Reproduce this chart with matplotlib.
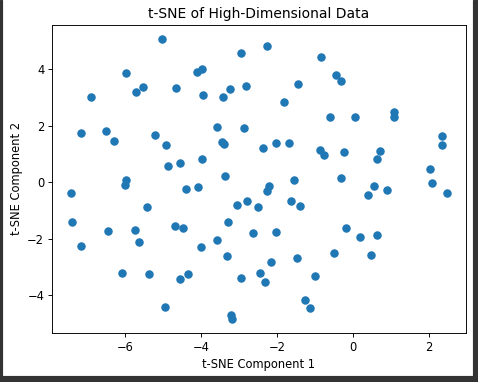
import matplotlib
matplotlib.use("Agg")
import matplotlib.pyplot as plt
from matplotlib.patches import Rectangle

comp1 = [-5.03, -2.95, -5.99, -4.11, -3.99, -6.89, -5.73, -5.53, -4.67, -3.96,
         -3.43, -3.25, -2.83, -7.16, -6.50, -6.30, -5.23, -4.92, -3.59, -2.87,
         -3.46, -3.40, -4.88, -4.56, -3.97, -3.38, -5.98,
         -2.26, -0.85, -0.46, -0.31, -1.45, -1.81, -0.62, 0.04, 1.07, 1.07,
         2.34, 2.33, -2.38, -2.02, -1.69, -0.87, -0.77, -0.24, 0.70, 0.62,
         2.02, -1.57, -0.33,
         -7.44, -6.01, -4.41, -4.08, -5.43, -7.39, -6.46, -5.75, -5.65, -7.16,
         -4.68, -4.47, -4.00, -3.59, -3.29, -3.07, -2.79, -2.50, -2.64, -3.33,
         -6.08, -5.38, -4.56, -4.34, -2.96, -2.46, -4.95, -3.23, -3.20,
         -2.22, -2.26, -1.63, -1.41, 0.54, 0.39, 0.90, 2.08, 2.46, -2.03,
         -0.20, 0.19, 0.62, -0.51, 0.47, -2.16, -1.49, -2.32, -1.01, -1.27,
         -1.14]
comp2 = [5.08, 4.58, 3.86, 3.90, 4.01, 3.03, 3.19, 3.36, 3.34, 3.10,
         3.03, 3.30, 3.39, 1.74, 1.80, 1.47, 1.68, 1.30, 1.95, 1.92,
         1.42, 1.36, 0.56, 0.69, 0.81, 0.20, 0.06,
         4.84, 4.43, 3.78, 3.60, 3.48, 2.85, 2.30, 2.30, 2.48, 2.30,
         1.62, 1.33, 1.20, 1.39, 1.39, 1.13, 0.96, 1.05, 1.09, 0.82,
         0.46, 0.08, 0.14,
         -0.39, -0.11, -0.25, -0.19, -0.90, -1.40, -1.75, -1.69, -2.14, -2.25,
         -1.55, -1.61, -2.29, -2.07, -1.43, -0.82, -0.66, -0.90, -1.82, -2.62,
         -3.23, -3.27, -3.45, -3.27, -3.41, -3.23, -4.42, -4.71, -4.87,
         -0.15, -0.31, -0.66, -0.84, -0.15, -0.46, -0.27, -0.04, -0.37, -1.76,
         -1.61, -1.96, -1.87, -2.53, -2.58, -2.85, -2.70, -3.56, -3.33, -4.18,
         -4.45]

title = "t-SNE of High-Dimensional Data"
xlabel = "t-SNE Component 1"
ylabel = "t-SNE Component 2"

DPI = 83
fig = plt.figure(figsize=(478 / DPI, 382 / DPI), dpi=DPI, facecolor="white")
ax = fig.add_axes([52.3 / 478, (382 - 332.7) / 382, (465.7 - 52.3) / 478, (332.7 - 25) / 382])
ax.scatter(comp1, comp2, color="#1f77b4", s=40)
ax.set_xlim(-7.92, 2.96)
ax.set_ylim(-5.34, 5.57)
ax.set_xticks([-6, -4, -2, 0, 2])
ax.set_yticks([-4, -2, 0, 2, 4])
ax.set_title(title)
ax.set_xlabel(xlabel)
ax.set_ylabel(ylabel)

# dark frame of the screenshot
dark = "#333333"
fig.patches.append(Rectangle((0, 0), 2 / 478, 1, transform=fig.transFigure, color=dark, zorder=10))
fig.patches.append(Rectangle((473 / 478, 0), 5 / 478, 1, transform=fig.transFigure, color=dark, zorder=10))
fig.patches.append(Rectangle((0, 0), 1, 6 / 382, transform=fig.transFigure, color=dark, zorder=10))

fig.savefig("out.png", dpi=DPI, facecolor="white")
